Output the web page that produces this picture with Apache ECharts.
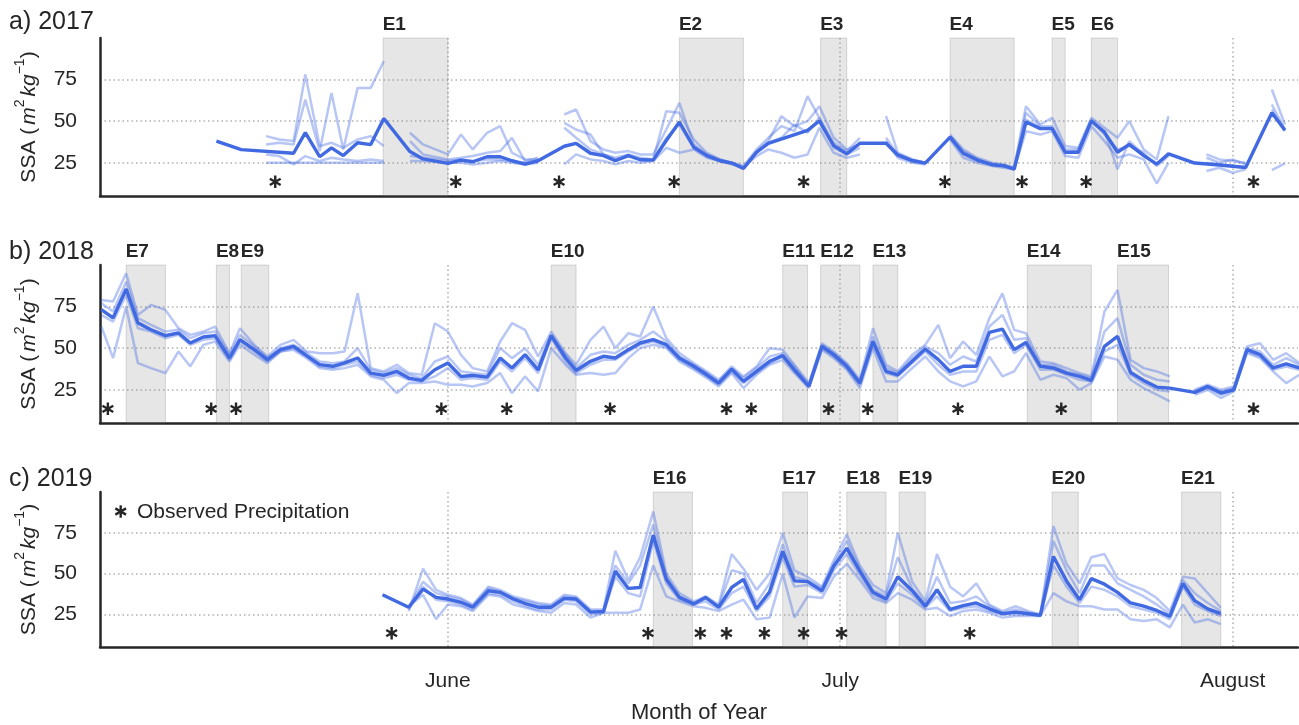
<!DOCTYPE html>
<html>
<head>
<meta charset="utf-8">
<title>SSA 2017-2019</title>
<script src="https://cdn.jsdelivr.net/npm/echarts@6/dist/echarts.min.js"></script>
<style>
  html, body { margin: 0; padding: 0; background: #ffffff; }
  #chart { width: 1299px; height: 725px; }
</style>
</head>
<body>
<div id="chart"></div>
<script>
// ---- axis ticks (days counted from 1 June) ----
const monthTicks = [0, 30, 60];
const monthLabels = ['June', 'July', 'August'];
const ssaTicks = [25, 50, 75];

// ---- 2017 ----
const days2017 = [-17.7,-15.8,-13.9,-12.9,-11.8,-10.9,-9.8,-8.9,-8.0,-6.9,-5.9,-4.9,-3.9,-2.9,-1.9,0.0,1.0,1.9,3.0,4.0,4.9,5.9,6.9,7.9,8.9,9.8,10.9,11.9,12.8,13.8,14.7,15.7,16.7,17.7,18.8,19.8,20.8,21.7,22.6,23.6,24.5,25.5,26.5,27.5,28.4,29.5,30.5,31.5,32.5,33.5,34.4,35.5,36.5,37.4,38.4,39.4,40.5,41.6,42.5,43.3,44.2,45.3,46.2,47.2,48.2,49.2,50.2,51.2,52.1,53.2,54.2,55.1,56.1,57.1,58.0,59.0,60.0,61.0,62.0,63.0,64.0];
const mean2017 = [38.0,32.9,null,null,30.7,43.1,28.6,33.9,29.3,37.0,35.9,51.6,null,31.7,27.3,24.6,26.6,25.6,28.6,28.6,26.2,24.2,26.2,null,34.9,36.7,30.7,29.3,26.2,29.3,26.8,26.6,38.4,49.5,34.3,29.3,26.2,24.8,21.5,31.3,36.7,null,null,44.5,50.1,35.3,30.3,36.7,null,36.7,29.7,26.2,24.8,null,40.4,30.7,26.6,23.8,23.2,21.2,49.5,45.5,45.5,31.3,31.3,50.1,43.4,31.3,36.0,29.3,24.2,30.3,null,24.8,null,23.6,null,22.1,null,55.0,44.5];
const run2017a = [null,null,41,39,38,78,35,37,34,39,41,35,null,43,36,30,42,33,43,47,31,27,27,null,54,57,38,33,31,32,30,30,45,61,36,30,27,25,23,33,40,47,44,65,52,37,32,40,null,53,31,27,25,null,42,33,28,25,24,22,59,48,52,35,34,52,46,40,50,33,27,53,null,null,30,27,26,25,null,69,48];
const run2017b = [null,null,30,29,24,29,26,28,27,26,27,26,null,26,26,25,25,24,25,26,25,24,25,null,24,30,27,26,24,26,25,26,34,31,33,28,26,24,22,29,33,31,28,30,46,31,28,30,null,38,28,25,24,null,39,28,25,23,22,21,44,42,44,29,28,47,38,28,30,27,12.5,25,null,null,20,22,19,21,null,20.5,24.6];
const run2017c = [null,null,36,37,36,63,32,67,33,70,70,86,null,38,30,27,28,29,31,32,40,26,28,null,49,45,42,30,28,30,28,27,56,55,39,31,27,25,22,32,38,53,47,50,59,40,33,36,null,40,30,27,25,null,41,32,27,24,23,22,55,47,47,33,33,50,44,21,38,30,24,31,null,null,28,25,27,24,null,60,45];
const run2017d = [null,null,25,25,25,25,25,25,25,25,25,25,null,29,28,26,27,26,27,27,26,25,26,null,46,40,33,30,27,29,27,27,40,48,34,29,26,25,22,31,37,40,48,43,52,34,30,34,null,37,29,26,25,null,40,30,26,24,23,21,51,46,46,31,32,51,42,33,35,31,23,29,null,null,25,24,23,22,null,57,44];
const precip2017 = [-13.2, 0.6, 8.5, 17.3, 27.2, 38.0, 43.9, 48.8, 61.6];
const events2017 = ['E1','E2','E3','E4','E5','E6'];
const eventStart2017 = [-4.95, 17.7, 28.5, 38.4, 46.2, 49.2];
const eventEnd2017 = [0.0, 22.6, 30.5, 43.3, 47.2, 51.2];

// ---- 2018 ----
const days2018 = [-26.5,-25.6,-24.6,-23.7,-22.7,-21.6,-20.6,-19.7,-18.7,-17.8,-16.7,-15.9,-14.8,-13.8,-12.8,-11.8,-10.8,-9.8,-8.8,-7.9,-6.9,-5.9,-4.9,-3.9,-3.0,-2.0,-1.0,0.0,1.0,1.9,3.0,4.0,4.9,5.9,6.9,7.9,9.0,9.8,10.9,11.9,12.8,13.8,14.7,15.7,16.7,17.7,18.8,19.8,20.7,21.7,22.6,23.6,24.6,25.6,26.5,27.6,28.6,29.5,30.5,31.5,32.5,33.5,34.4,35.5,36.5,37.5,38.4,39.4,40.4,41.4,42.4,43.3,44.2,45.3,46.3,47.3,48.3,49.2,50.2,51.2,52.2,53.2,54.2,55.2,56.1,57.1,58.1,59.1,60.1,61.1,62.1,63.1,64.1,65.1];
const mean2018 = [73.2,68.2,85.6,65.2,61.1,57.5,59.1,53.1,56.7,57.5,44.1,55.1,49.1,43.1,49.1,51.1,45.5,40.1,39.1,41.1,44.1,35.0,33.6,36.0,32.0,30.6,37.0,41.1,33.0,33.6,32.6,44.1,38.1,46.1,37.0,57.5,44.1,36.6,42.1,45.1,44.1,49.1,53.1,55.1,52.1,44.1,39.1,34.0,29.0,37.4,30.0,36.0,42.1,45.5,37.0,27.0,51.1,46.1,39.1,29.0,54.1,36.0,34.0,42.1,49.5,43.1,36.0,39.1,39.1,59.5,61.5,49.1,53.5,39.1,38.1,35.0,33.0,30.6,51.1,57.1,35.4,30.6,26.6,26.0,null,23.4,27.0,23.0,25.0,49.1,46.1,38.1,40.5,38.1];
const run2018a = [79,78,95,70,76,73,62,58,60,63,47,62,52,45,52,55,48,47,47,48,83,38,36,40,35,34,65,60,46,38,36,54,65,61,45,60,47,40,55,63,50,59,57,75,56,47,41,36,31,39,33,39,50,49,40,29,53,48,41,31,62,40,36,46,52,64,44,54,46,68,83,61,59,42,41,38,35,33,72,85,43,38,36,33,null,25,28,25,27,51,53,43,47,41];
const run2018b = [63,44,75,41,38,35,48,39,52,54,42,52,46,41,48,49,44,38,37,38,40,33,31,23,29,29,30,28,28,27,29,35,23,33,24,50,40,34,35,34,35,44,50,52,50,42,37,32,27,35,26,34,40,43,35,26,49,44,37,26,50,30,30,38,45,36,30,27,30,45,33,36,47,31,34,32,25,29,45,43,31,26,22,18,null,22,25,20,24,47,44,36,29,34];
const run2018c = [77,72,90,68,64,60,61,56,59,60,46,58,51,44,50,52,47,42,41,42,50,37,35,38,34,32,42,45,36,35,34,50,44,50,40,58,46,38,46,48,47,52,55,60,54,45,40,35,30,38,32,38,45,47,39,28,52,47,40,30,57,38,35,44,51,47,40,45,42,63,70,55,56,40,40,36,34,32,60,68,40,34,31,30,null,24,27,24,26,50,48,40,44,40];
const run2018d = [70,66,82,62,60,56,58,52,55,56,43,54,48,42,48,50,45,39,38,40,42,34,32,34,31,30,33,38,31,32,31,42,36,44,35,56,42,35,40,43,43,48,52,54,51,43,38,33,28,36,29,35,41,45,36,27,50,45,38,28,52,35,33,41,48,40,34,36,36,55,58,47,52,37,37,34,31,30,48,52,34,29,25,24,null,23,26,22,25,48,45,37,39,37];
const precip2018 = [-26.0, -18.1, -16.2, -0.5, 4.5, 12.4, 21.3, 23.2, 29.1, 32.1, 39.0, 46.9, 61.6];
const events2018 = ['E7','E8','E9','E10','E11','E12','E13','E14','E15'];
const eventStart2018 = [-24.6, -17.7, -15.8, 7.9, 25.6, 28.5, 32.5, 44.3, 51.2];
const eventEnd2018 = [-21.6, -16.7, -13.7, 9.8, 27.5, 31.5, 34.4, 49.2, 55.1];

// ---- 2019 ----
const days2019 = [-5.0,-4.0,-3.0,-1.9,-0.9,0.0,1.0,1.9,3.1,4.0,5.0,6.0,6.9,7.9,8.9,9.8,10.9,11.9,12.8,13.8,14.7,15.7,16.7,17.7,18.8,19.7,20.7,21.7,22.6,23.6,24.6,25.6,26.5,27.5,28.6,29.5,30.5,31.5,32.5,33.5,34.4,35.5,36.5,37.4,38.4,39.4,40.4,41.4,42.4,43.4,44.4,45.3,46.3,47.3,48.3,49.2,50.2,51.2,52.2,53.2,54.2,55.2,56.2,57.1,58.1,59.1];
const mean2019 = [37.0,null,29.4,40.5,35.4,34.4,32.4,29.4,39.5,38.5,34.4,31.4,29.4,29.4,34.8,34.4,26.4,26.8,51.5,40.9,41.5,73.6,46.5,35.4,31.4,35.4,29.4,41.5,46.5,28.4,38.9,63.6,45.5,45.1,39.5,54.5,65.6,51.5,38.5,34.4,48.1,39.5,30.0,40.1,28.0,30.4,32.0,28.4,25.4,26.4,25.4,24.4,60.5,45.5,34.0,46.9,43.5,38.5,32.0,30.0,27.4,23.8,43.9,33.4,28.4,25.4];
const run2019a = [null,null,27,53,40,37,35,31,42,40,36,34,32,31,37,36,28,28,64,46,60,88,50,38,33,36,31,62,53,40,50,75,52,48,42,58,74,55,43,38,75,45,33,62,42,36,44,31,27,30,27,25,79,56,44,60,62,47,43,40,35,27,48,47,38,29];
const run2019b = [null,null,30,37,22,31,30,27,37,36,31,29,27,26,32,31,23,26,26,26,28,55,36,33,30,29,27,31,34,22,23,50,23,36,35,48,56,46,35,32,38,34,28,29,24,27,28,26,23,24,24,24,38,33,30,30,28,28,22,21,22,17,31,20,22,19];
const run2019c = [null,null,29,45,38,36,34,30,41,39,35,33,31,30,36,35,27,27,55,44,55,80,48,36,32,35,30,52,50,32,44,68,48,46,41,56,70,53,40,36,60,41,31,48,32,33,36,30,26,28,26,25,70,52,38,55,55,44,40,36,31,25,46,38,32,27];
const run2019d = [null,null,28,42,34,33,31,28,38,37,33,30,28,28,34,33,25,26,48,38,36,70,44,34,31,33,28,38,42,27,36,60,42,43,38,52,62,49,37,33,44,37,29,36,27,29,30,27,25,25,25,24,55,42,32,42,40,36,30,28,26,22,42,31,27,24];
const precip2019 = [-4.3, 15.3, 19.3, 21.3, 24.2, 27.2, 30.1, 39.9];
const events2019 = ['E16','E17','E18','E19','E20','E21'];
const eventStart2019 = [15.7, 25.6, 30.5, 34.5, 46.2, 56.1];
const eventEnd2019 = [18.7, 27.5, 33.5, 36.5, 48.2, 59.1];

const panelTitles = ['a) 2017', 'b) 2018', 'c) 2019'];
const precipLevel = 13.5;

// ---- styling / layout ----
const FONT = '"Liberation Sans", Arial, Helvetica, sans-serif';
const INK = '#262626';
const BLUE = '#4169E1';
const RUN_BLUE = 'rgba(65,105,225,0.38)';
const GRID_TOPS = [38, 265, 492];
const GRID_H = 158;
const X_MIN = -26.6, X_MAX = 65.0;

// six-spoke asterisk: three bars through the origin (0, 60 and 120 degrees)
const SPOKES = [
  [[-1.2, -6.2], [1.2, -6.2], [1.2, 6.2], [-1.2, 6.2]],
  [[-5.97, -2.06], [-4.77, -4.14], [5.97, 2.06], [4.77, 4.14]],
  [[4.77, -4.14], [5.97, -2.06], [-4.77, 4.14], [-5.97, 2.06]]
];
const ASTERISK = SPOKES.map(s => 'M' + s.map(pt => pt.join(',')).join('L') + 'Z').join('');

const panels = [
  { days: days2017, mean: mean2017, runs: [run2017a, run2017b, run2017c, run2017d], precip: precip2017,
    ev: events2017, evS: eventStart2017, evE: eventEnd2017 },
  { days: days2018, mean: mean2018, runs: [run2018a, run2018b, run2018c, run2018d], precip: precip2018,
    ev: events2018, evS: eventStart2018, evE: eventEnd2018 },
  { days: days2019, mean: mean2019, runs: [run2019a, run2019b, run2019c, run2019d], precip: precip2019,
    ev: events2019, evS: eventStart2019, evE: eventEnd2019 }
];

const dotted = { type: [1.5, 3], color: '#b0b0b0', width: 1.5 };
const spine = { color: INK, width: 2.5 };

const grid = [], xAxis = [], yAxis = [], series = [];

panels.forEach((p, i) => {
  grid.push({ left: 100, right: 1, top: GRID_TOPS[i], height: GRID_H, containLabel: false });

  xAxis.push({
    gridIndex: i, type: 'value', min: X_MIN, max: X_MAX,
    axisLine: { show: true, onZero: false, lineStyle: spine },
    axisTick: { show: false, customValues: monthTicks },
    axisLabel: {
      show: i === 2, customValues: monthTicks, fontSize: 21, color: INK, fontFamily: FONT, margin: 24,
      formatter: v => monthLabels[monthTicks.findIndex(t => Math.abs(t - v) < 1e-6)] || ''
    },
    splitLine: { show: true, lineStyle: dotted },
    name: i === 2 ? 'Month of Year' : '',
    nameLocation: 'middle', nameGap: 55,
    nameTextStyle: { fontSize: 22, color: INK, fontFamily: FONT }
  });

  yAxis.push({
    gridIndex: i, type: 'value', min: 5, max: 100,
    axisLine: { show: true, onZero: false, lineStyle: spine },
    axisTick: { show: false, customValues: ssaTicks },
    axisLabel: { customValues: ssaTicks, fontSize: 21, color: INK, fontFamily: FONT, margin: 23 },
    splitLine: { show: true, lineStyle: dotted },
    name: '{n|SSA (}{i|m}{s|2}{i|kg}{s|−1}{n|)}',
    nameLocation: 'middle', nameRotate: 90, nameGap: 60,
    nameTextStyle: {
      color: INK,
      rich: {
        n: { fontSize: 21, color: INK, fontFamily: FONT, lineHeight: 27, verticalAlign: 'bottom' },
        i: { fontSize: 21, color: INK, fontFamily: FONT, fontStyle: 'italic', lineHeight: 27, verticalAlign: 'bottom', padding: [0, 0, 0, 3] },
        s: { fontSize: 14, color: INK, fontFamily: FONT, lineHeight: 27, verticalAlign: 'top' }
      }
    }
  });

  // ensemble members
  p.runs.forEach(run => {
    series.push({
      type: 'line', xAxisIndex: i, yAxisIndex: i, z: 2,
      data: p.days.map((d, k) => [d, run[k] == null ? '-' : run[k]]),
      showSymbol: false, symbol: 'none', connectNulls: false, silent: true,
      lineStyle: { color: RUN_BLUE, width: 2.5 }
    });
  });

  // mean line with event shading
  series.push({
    type: 'line', xAxisIndex: i, yAxisIndex: i, z: 3,
    data: p.days.map((d, k) => [d, p.mean[k]]).filter(pt => pt[1] != null),
    showSymbol: false, symbol: 'none', silent: true,
    lineStyle: { color: BLUE, width: 3.4 },
    markArea: {
      silent: true,
      itemStyle: { color: 'rgba(128,128,128,0.2)', borderColor: 'rgba(100,100,100,0.22)', borderWidth: 1 },
      label: {
        show: true, position: [0, -3], align: 'left', verticalAlign: 'bottom',
        fontSize: 19, fontWeight: 'bold', color: INK, fontFamily: FONT
      },
      data: p.ev.map((name, k) => [{ name: name, xAxis: p.evS[k] }, { xAxis: p.evE[k] }])
    }
  });

  // observed precipitation
  series.push({
    type: 'scatter', xAxisIndex: i, yAxisIndex: i, z: 4, silent: true,
    data: p.precip.map(d => [d, precipLevel]),
    symbol: 'path://' + ASTERISK, symbolSize: [12, 12.5],
    itemStyle: { color: INK, opacity: 1 }
  });
});

const graphic = panelTitles.map((t, i) => ({
  type: 'text', x: 9, y: [22, 252, 479][i],
  style: { text: t, fontSize: 25, fontFamily: FONT, fill: INK, verticalAlign: 'middle' }
}));
// legend marker for precipitation
graphic.push({
  type: 'group', x: 120.7, y: 511.5,
  children: SPOKES.map(s => ({ type: 'polygon', shape: { points: s }, style: { fill: INK } }))
});
graphic.push({
  type: 'text', x: 137, y: 512,
  style: { text: 'Observed Precipitation', fontSize: 21, fontFamily: FONT, fill: INK, verticalAlign: 'middle' }
});

const chart = echarts.init(document.getElementById('chart'), null, { renderer: 'canvas' });
chart.setOption({
  animation: false,
  backgroundColor: '#ffffff',
  textStyle: { fontFamily: FONT, color: INK },
  grid, xAxis, yAxis, series, graphic
});
</script>
</body>
</html>
